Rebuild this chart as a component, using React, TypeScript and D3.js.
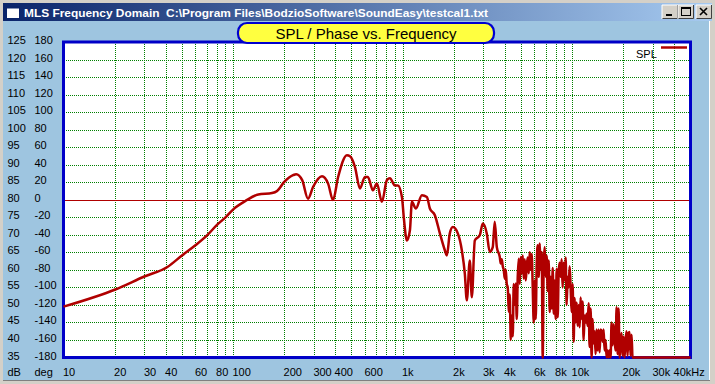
import { useMemo } from 'react';
import * as d3 from 'd3';

// SPL trace (Hz, dB)
const freqs = [
  10, 20.2, 30, 41, 50, 60, 70.5, 80.7, 90, 100, 118, 141, 170, 182, 200, 226, 236, 256, 277, 297,
  335, 364, 389, 417, 470, 490, 524, 561, 600, 625, 669, 706, 756, 809, 843, 902, 940, 992, 1019, 1062,
  1106, 1136, 1199, 1301, 1392, 1450, 1552, 1661, 1777, 1826, 1901, 1981, 2119, 2238, 2331, 2395, 2495, 2564, 2670, 2858,
  2976, 3141, 3271, 3407, 3500, 3600,
  3747, 3798, 3850, 3903, 3956, 4010, 4065, 4120, 4177, 4234, 4292, 4350, 4410, 4470, 4531, 4593, 4656, 4720, 4784, 4850,
  4916, 4983, 5051, 5120, 5190, 5261, 5333, 5405, 5479, 5554, 5630, 5707, 5785, 5864, 5944, 6025, 6107, 6191, 6275, 6361,
  6448, 6536, 6625, 6716, 6808, 6901, 6995, 7090, 7187, 7285, 7385, 7486, 7588, 7692, 7797, 7903, 8011, 8121, 8232, 8344,
  8454, 8569, 8686, 8805, 8925, 9047, 9171, 9296, 9423, 9552, 9682, 9814, 9948, 10084, 10222, 10362, 10503, 10647, 10792, 10940,
  11089, 11240, 11394, 11549, 11707, 11867, 12029, 12193, 12360, 12529, 12700, 12873, 13049, 13227, 13408, 13591, 13777, 13965, 14156, 14349,
  14545, 14744, 14945, 15149, 15356, 15566, 15778, 15994, 16212, 16434, 16658, 16886, 17116, 17350, 17587, 17827, 18070, 18317, 18567, 18821,
  19078, 19338, 19602, 19870, 20141, 20416, 20695, 20978, 21264, 21555, 21849, 22147, 22450, 22756, 50000,
];
const spl = [
  49.5, 54.4, 58.1, 60.8, 64.1, 67, 69.9, 72.9, 74.9, 77.2, 79.6, 81.5, 81.9, 82.5, 85, 87, 87.3, 85.6, 80.3, 83.7,
  86.7, 84.6, 79.9, 86.5, 92.7, 92.4, 89.4, 83.2, 86.5, 86.5, 82.7, 84.6, 79.4, 85.6, 86.1, 84.1, 84.1, 80.8, 74.6, 68.4,
  71.3, 79.4, 77.5, 81.3, 80.8, 77.5, 75.6, 70.4, 65.6, 64.1, 70.4, 72.2, 70.4, 65.6, 58.9, 51.3, 62.7, 52.2, 68.4, 69.9,
  73.2, 70.4, 65.1, 66.5, 73.7, 66.5,
  63.7, 61.8, 63, 61, 60, 57.5, 60, 56, 55, 48, 53, 40, 47, 41, 56, 50, 56.1, 46, 58, 63.2,
  56, 63.7, 59, 64.1, 57.5, 63, 57, 61, 63.5, 59, 65, 60, 64.5, 55, 45, 57, 46, 62, 67, 58,
  67.5, 60, 65, 35, 62, 66.5, 58, 64, 54, 62.7, 48, 58, 49, 60.5, 47.5, 57, 46, 60.3, 46.5, 59.5,
  62, 58, 63, 55, 62, 57, 63.5, 50, 58, 55, 61, 55, 48, 56, 39.5, 52, 45, 50.7, 44, 50,
  43.6, 52.1, 46, 51, 40, 47, 45, 47.5, 44, 50.5, 38, 49, 35, 46, 39, 42.5, 36, 43, 37, 43,
  36.5, 43, 42.5, 39.5, 43, 37, 40, 35, 37, 35, 37, 35, 45, 38.5, 44.5, 40, 37, 49.3, 36, 49,
  35, 39, 42, 35.5, 41, 35, 40, 42.5, 35.5, 42, 42.3, 35.5, 41.5, 35, 35,
];

const xTicks = [10, 20, 30, 40, 60, 80, 100, 200, 300, 400, 600, 1000, 2000, 3000, 4000, 6000, 8000, 10000, 20000, 30000, 40000];
const xLabels = ['10', '20', '30', '40', '60', '80', '100', '200', '300', '400', '600', '1k', '2k', '3k', '4k', '6k', '8k', '10k', '20k', '30k', '40kHz'];
const dbTicks = [125, 120, 115, 110, 105, 100, 95, 90, 85, 80, 75, 70, 65, 60, 55, 50, 45, 40, 35];
const degTicks = [180, 160, 140, 120, 100, 80, 60, 40, 20, 0, -20, -40, -60, -80, -100, -120, -140, -160, -180];

const FONT = '"Liberation Sans", Arial, sans-serif';
const RED = '#b00000';
const W = 715;
const H = 384;
const plot = { left: 63.5, right: 690.5, top: 42, bottom: 357.5 };

const Button = ({ x, kind }: { x: number; kind: string }) => {
  const y = 5;
  return (
    <g>
      <rect x={x} y={y} width={16} height={14} fill="#d4d0c8" />
      <path d={`M${x},${y + 14}V${y}H${x + 16}`} stroke="#ffffff" fill="none" />
      <path d={`M${x + 0.5},${y + 13.5}H${x + 15.5}V${y}`} stroke="#404040" fill="none" />
      {kind === 'min' && <rect x={x + 4} y={y + 9} width={6} height={2} fill="#000" />}
      {kind === 'max' && (
        <g>
          <rect x={x + 3.5} y={y + 2.5} width={9} height={8} fill="none" stroke="#000" />
          <rect x={x + 3.5} y={y + 2.5} width={9} height={1.5} fill="#000" />
        </g>
      )}
      {kind === 'close' && (
        <path d={`M${x + 4},${y + 3}L${x + 11},${y + 10}M${x + 11},${y + 3}L${x + 4},${y + 10}`} stroke="#000" strokeWidth={1.6} />
      )}
    </g>
  );
};

export default function App() {
  const xScale = useMemo(() => d3.scaleLog().domain([10, 50000]).range([plot.left, plot.right]), []);
  const yScale = useMemo(() => d3.scaleLinear().domain([35, 125]).range([plot.bottom, plot.top]), []);

  const gridX: number[] = [];
  [10, 100, 1000, 10000].forEach((dec) => {
    for (let m = 1; m <= 9; m++) {
      const f = dec * m;
      if (f > 10 && f < 50000) gridX.push(f);
    }
  });
  const gridY = dbTicks.filter((d) => d > 35 && d < 125);

  const points: [number, number][] = freqs.map((f, i) => [f, spl[i]]);
  const line = d3
    .line<[number, number]>()
    .x((d) => xScale(d[0]))
    .y((d) => yScale(Math.max(35, d[1])))
    .curve(d3.curveMonotoneX);

  return (
    <svg width={W} height={H} style={{ position: 'absolute', left: 0, top: 0, display: 'block' }} fontFamily={FONT}>
      <defs>
        <linearGradient id="tb" x1="0" x2="1" y1="0" y2="0">
          <stop offset="0" stopColor="#0a246a" />
          <stop offset="1" stopColor="#a6caf0" />
        </linearGradient>
      </defs>
      {/* window frame */}
      <rect x={0} y={0} width={W} height={H} fill="#d4d0c8" />
      <rect x={3} y={21} width={706} height={359} fill="#9ec5e0" />
      <line x1={709.5} x2={709.5} y1={21} y2={380} stroke="#ffffff" />
      <line x1={3} x2={710} y1={380.5} y2={380.5} stroke="#808080" />
      <rect x={3} y={3} width={709} height={18} fill="url(#tb)" />
      <rect x={6.5} y={6.5} width={13} height={12} fill="#ffffff" stroke="#0a246a" />
      <rect x={6.5} y={6.5} width={13} height={2} fill="#0a246a" />
      <text x={24} y={17} fill="#ffffff" fontWeight="bold" fontSize={11} textLength={464} lengthAdjust="spacingAndGlyphs">
        {'MLS Frequency Domain\u00a0\u00a0C:\\Program Files\\BodzioSoftware\\SoundEasy\\testcal1.txt'}
      </text>
      <Button x={662} kind="min" />
      <Button x={678} kind="max" />
      <Button x={696} kind="close" />

      {/* plot area */}
      <rect x={plot.left} y={plot.top} width={plot.right - plot.left} height={plot.bottom - plot.top} fill="#ffffff" />
      <g stroke="#008000" strokeWidth={1} strokeDasharray="1 1" fill="none" shapeRendering="crispEdges">
        {gridX.map((f) => (
          <line key={`gx${f}`} x1={Math.round(xScale(f)) + 0.5} x2={Math.round(xScale(f)) + 0.5} y1={plot.top} y2={plot.bottom} />
        ))}
        {gridY.map((d) => (
          <line key={`gy${d}`} x1={plot.left} x2={plot.right} y1={Math.round(yScale(d)) + 0.5} y2={Math.round(yScale(d)) + 0.5} />
        ))}
      </g>
      {/* phase trace, flat at 0 deg */}
      <line x1={plot.left} x2={plot.right} y1={Math.round(yScale(80)) + 0.5} y2={Math.round(yScale(80)) + 0.5} stroke={RED} strokeWidth={1.2} />
      <rect x={plot.left} y={plot.top} width={plot.right - plot.left} height={plot.bottom - plot.top} fill="none" stroke="#0000c8" strokeWidth={3} />
      <path d={line(points) ?? ''} fill="none" stroke={RED} strokeWidth={2.5} strokeLinejoin="round" />

      {/* legend */}
      <text x={636} y={58} fontSize={11} fill="#000">SPL</text>
      <line x1={661} x2={687} y1={47.5} y2={47.5} stroke={RED} strokeWidth={2.5} />

      {/* axis labels */}
      <g fontSize={11} fill="#000">
        {dbTicks.map((d, i) => (
          <g key={`yl${d}`}>
            <text x={7.5} y={yScale(d) + 2}>{d}</text>
            <text x={34.5} y={yScale(d) + 2}>{degTicks[i]}</text>
          </g>
        ))}
        <text x={7.5} y={376}>dB</text>
        <text x={34.5} y={376}>deg</text>
        {xTicks.map((f, i) => (
          <text key={`xl${f}`} x={xScale(f) - 0.5} y={376}>{xLabels[i]}</text>
        ))}
      </g>

      {/* chart title */}
      <rect x={238} y={23} width={256} height={20} rx={9} fill="#ffff40" stroke="#0000d0" strokeWidth={2.2} />
      <text x={366} y={38.5} textAnchor="middle" fontSize={15} fill="#000">SPL / Phase vs. Frequency</text>
    </svg>
  );
}
